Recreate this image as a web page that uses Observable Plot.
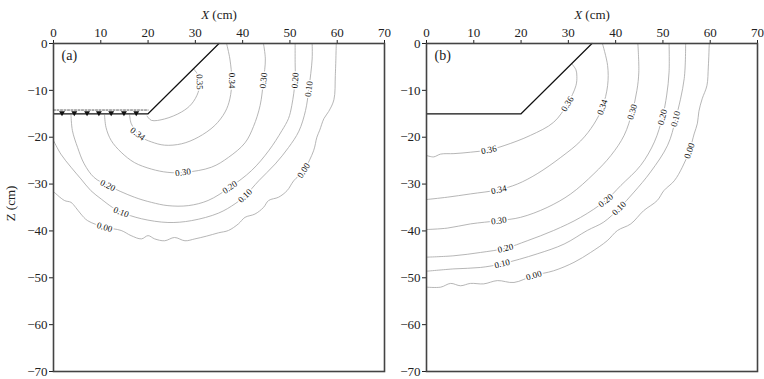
<!DOCTYPE html>
<html><head><meta charset="utf-8">
<script src="https://cdn.jsdelivr.net/npm/d3@7"></script>
<script src="https://cdn.jsdelivr.net/npm/@observablehq/plot@0.6"></script>
<style>
html,body{margin:0;padding:0;background:#fff;}
#wrap{position:relative;width:764px;height:379px;overflow:hidden;}
#wrap svg{position:absolute;top:0;}
</style></head><body><div id="wrap"></div>
<script>
// ---- axes ----
const xTicks = [0, 10, 20, 30, 40, 50, 60, 70];
const yTicks = [0, -10, -20, -30, -40, -50, -60, -70];
const levels = ["0.36", "0.35", "0.34", "0.30", "0.20", "0.10", "0.00"];

// ---- channel (bank) outline, same in both panels ----
const bankX = [0, 20, 35];
const bankZ = [-15, -15, 0];
// water surface markers in panel (a)
const waterX = [1.8, 4.4, 7.1, 9.6, 12.2, 14.9, 17.5];
const waterZ = -14.2;

// ---- panel (a) contours [x, z] ----
const a035 = [[29.6,-5.4],[30.5,-6.6],[30.9,-8.2],[30.6,-10.4],[29.2,-12.9],[27.1,-14.6],[23.5,-16.1],[20.7,-16.4],[19.8,-15.5]];
const a034 = [[36.6,0],[37.3,-3.3],[37.7,-7.9],[37.3,-11.8],[36.3,-14.6],[34.1,-17.5],[30.6,-20],[27.1,-21.4],[23.5,-21.7],[20.7,-21.0],[18.6,-20.0],[17.2,-18.4],[16.4,-17.0],[16.1,-15.3]];
const a030 = [[44.4,0],[44.8,-3.3],[44.4,-7.9],[43.7,-13.2],[42.3,-17.7],[40.5,-21.2],[37,-24.3],[33.4,-26.4],[27.8,-27.5],[24.2,-27.5],[20.7,-26.8],[17.1,-25.4],[14.3,-23.2],[12.2,-20.7],[11.1,-17.9],[10.8,-15.3]];
const a020 = [[51.1,0],[51.1,-4],[51.1,-7.9],[50.4,-13.2],[49.7,-16],[48.3,-18.6],[45.5,-22.9],[41.9,-27.1],[37.3,-30.7],[32.7,-33.5],[28.5,-34.6],[24.2,-34.6],[20.7,-33.9],[17.1,-32.8],[11.5,-30.3],[8.6,-28.6],[6.5,-25.7],[5.1,-22.2],[4,-18.6],[3.7,-15.3]];
const a010 = [[54.7,0],[54.7,-3.3],[54,-9.7],[53.3,-14.3],[51.9,-18.7],[49.7,-22.2],[46.9,-25.7],[43.4,-29.3],[40.5,-32.5],[38.4,-34.2],[34.9,-36.2],[29.2,-37.8],[24.2,-38.2],[18.6,-37.4],[14.3,-36],[12.5,-35],[10.1,-33.2],[7.9,-31.4],[5.8,-28.9],[3.7,-26.4],[1.55,-23.6],[0,-20.7]];
const a000 = [[59.8,0],[59.6,-6.8],[59.3,-12],[58.2,-14.5],[57.2,-16],[56.3,-18.5],[55.7,-20],[55,-22.9],[52.9,-27.1],[50.8,-29.3],[49.4,-31.4],[47.6,-32.8],[45.5,-33.5],[44.4,-35],[42.6,-36.4],[40.5,-37.1],[39.1,-38.5],[37,-39.9],[34.9,-40.4],[32.4,-41.1],[29.9,-41.7],[27.8,-42.1],[25.6,-41.4],[23.5,-42.1],[21.4,-41.7],[20,-41],[18.6,-41.7],[16.4,-41],[14.3,-39.9],[10.8,-39.2],[7.2,-37.8],[5.8,-36.4],[4.7,-35],[3.7,-33.9],[2.3,-33.5],[0,-31.6]];
const labelsA = [["0.35",30.9,-8.2],["0.34",37.7,-7.9],["0.30",44.4,-7.9],["0.20",51.1,-7.9],["0.10",54.0,-9.7],
  ["0.34",17.8,-19.3],["0.30",27.4,-27.5],["0.20",11.5,-30.3],["0.20",37.3,-30.7],["0.10",14.3,-36.0],["0.10",40.5,-32.5],["0.00",10.8,-39.2],["0.00",52.9,-27.1]];

// ---- panel (b) contours [x, z] ----
const b036 = [[30.7,-4.3],[31.6,-5.6],[31.8,-7],[31.6,-9],[29.8,-12.9],[26.9,-16.8],[22,-19.6],[16.4,-21.8],[13.2,-22.7],[9.3,-23.2],[5.8,-23.5],[3,-23.6],[1.5,-24.2],[0,-23.9]];
const b034 = [[37.2,0],[38.3,-4.7],[38.3,-9],[37.2,-13.6],[35.4,-17.2],[32.6,-20.8],[28.4,-24.3],[23.4,-27.8],[19.2,-30],[15.3,-31.2],[9.3,-32.1],[4.4,-32.8],[0,-33.3]];
const b030 = [[44.7,0],[44.9,-6.1],[44.5,-10],[43.5,-14.6],[41.8,-19.6],[39,-23.9],[35.4,-27.8],[30.5,-32.1],[25.5,-35],[19.9,-37.1],[15.3,-37.8],[9.3,-38.5],[4.4,-39.4],[0,-39.7]];
const b020 = [[51.3,0],[51.3,-6.1],[50.8,-11],[49.9,-15.7],[48.2,-21],[45.3,-26],[41.1,-30.3],[37.9,-33.5],[32.6,-37.1],[26.9,-39.9],[21.3,-42.1],[16.7,-43.7],[11.4,-44.6],[5.8,-45.3],[0,-45.6]];
const b010 = [[54.8,0],[54.5,-7.5],[52.7,-16.1],[51,-21.7],[47.4,-27.4],[43.9,-31.7],[40.7,-35.2],[37.5,-38.1],[34,-39.9],[29.1,-42.8],[23.4,-44.9],[16,-47],[11.4,-47.8],[5.8,-48.1],[0,-48.6]];
const b000 = [[59.8,0],[59.6,-5],[59.3,-9],[58.3,-11.8],[57.6,-14.5],[57.3,-17],[56.6,-19.3],[55.6,-22.9],[54.1,-26.4],[52.4,-29.3],[50.2,-31.4],[48.8,-33.5],[45.9,-35.7],[43.2,-38.5],[40.4,-39.9],[38.2,-42.1],[34.7,-44.6],[31.2,-46.7],[26.9,-48.5],[22.7,-49.5],[18.5,-51],[15,-50.6],[12.1,-51.3],[9.3,-51.2],[7.2,-51.7],[5.1,-51.2],[3,-52],[0,-52]];
const labelsB = [["0.36",29.8,-12.9],["0.34",37.2,-13.6],["0.30",43.5,-14.6],["0.20",49.9,-15.7],["0.10",52.7,-16.1],["0.00",55.6,-22.9],
  ["0.36",13.2,-22.7],["0.34",15.3,-31.2],["0.30",15.3,-37.8],["0.20",37.9,-33.5],["0.20",16.7,-43.7],["0.10",40.7,-35.2],["0.10",16,-47],["0.00",22.7,-49.5]];

const contoursA = {"0.35": a035, "0.34": a034, "0.30": a030, "0.20": a020, "0.10": a010, "0.00": a000};
const contoursB = {"0.36": b036, "0.34": b034, "0.30": b030, "0.20": b020, "0.10": b010, "0.00": b000};

function toRows(contours) {
  const rows = [];
  for (const lev of levels) {
    if (!contours[lev]) continue;
    contours[lev].forEach(([x, z]) => rows.push({level: lev, x, z}));
  }
  return rows;
}
function angleAt(pts, lx, lz) {
  let j = 0, bd = Infinity;
  pts.forEach(([x, z], i) => { const d = (x - lx) ** 2 + (z - lz) ** 2; if (d < bd) { bd = d; j = i; } });
  const p0 = pts[Math.max(0, j - 1)], p1 = pts[Math.min(pts.length - 1, j + 1)];
  let a = Math.atan2(-(p1[1] - p0[1]), p1[0] - p0[0]) * 180 / Math.PI;
  if (a > 90) a -= 180;
  if (a <= -90) a += 180;
  return a;
}

const bank = bankX.map((x, i) => ({x, z: bankZ[i]}));
const FONT = "'Liberation Serif', 'Times New Roman', serif";

function panel(tag, contours, labels, showY, water) {
  const rows = toRows(contours);
  const marks = [
    Plot.line(rows, {x: "x", y: "z", z: "level", stroke: "#a3a3a3", strokeWidth: 0.8, curve: "catmull-rom"}),
    Plot.text(labels, {x: d => d[1], y: d => d[2], text: d => d[0],
      rotate: d => angleAt(contours[d[0]], d[1], d[2]),
      fontSize: 9, fill: "#111", stroke: "white", strokeWidth: 3}),
    Plot.line(bank, {x: "x", y: "z", stroke: "#111", strokeWidth: 1.2}),
    Plot.text([tag], {frameAnchor: "top-left", dx: 8, dy: 7, fontSize: 14, fill: "#222"}),
    Plot.frame({stroke: "#444", strokeWidth: 1.6})
  ];
  if (water) {
    marks.push(Plot.line([{x: bankX[0], z: waterZ}, {x: bankX[1], z: waterZ}], {x: "x", y: "z", stroke: "#333", strokeWidth: 0.8, strokeDasharray: "2,1.5"}));
    marks.push(Plot.dot(waterX, {x: d => d, y: waterZ - 0.6, symbol: "triangle", r: 2.2, fill: "#111", rotate: 180}));
  }
  return Plot.plot({
    width: 391, height: 379,
    marginLeft: 53, marginRight: 7, marginTop: 43, marginBottom: 8,
    style: {fontFamily: FONT, fontSize: "13px", background: "transparent", color: "#222"},
    x: {domain: [0, 70], axis: "top", ticks: xTicks, tickSize: 4, tickPadding: 3,
        label: "X (cm)", labelAnchor: "center", labelArrow: "none", labelOffset: 34},
    y: {domain: [-70, 0], ticks: yTicks, tickSize: 4, tickPadding: 2,
        label: showY ? "Z (cm)" : null, labelAnchor: "center", labelArrow: "none", labelOffset: 48},
    marks
  });
}

const wrap = document.getElementById("wrap");
const svgA = panel("(a)", contoursA, labelsA, true, true);
const svgB = panel("(b)", contoursB, labelsB, false, false);
svgA.style.left = "0px";
svgB.style.left = "373px";
wrap.append(svgA, svgB);

// italic X in the axis title; nudge the Z label up slightly
for (const svg of [svgA, svgB]) {
  const t = svg.querySelector('g[aria-label="x-axis label"] text');
  if (t) {
    t.textContent = "";
    const ns = "http://www.w3.org/2000/svg";
    const i = document.createElementNS(ns, "tspan");
    i.setAttribute("font-style", "italic");
    i.textContent = "X";
    t.append(i, document.createTextNode(" (cm)"));
  }
  const g = svg.querySelector('g[aria-label="y-axis label"]');
  if (g) g.setAttribute("transform", ((g.getAttribute("transform") || "") + " translate(0,-4)").trim());
}
</script></body></html>
